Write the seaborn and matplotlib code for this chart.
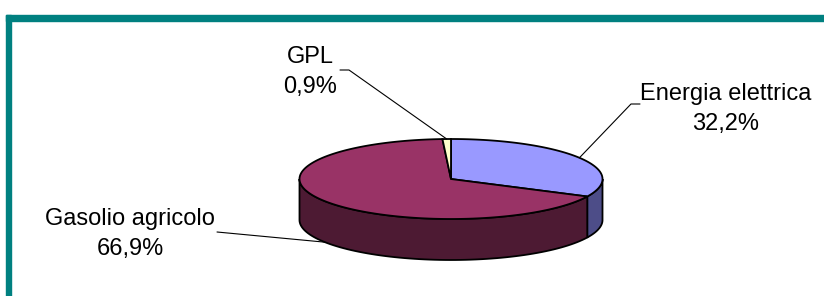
import numpy as np
import matplotlib
matplotlib.use("Agg")
import matplotlib.pyplot as plt
from matplotlib.patches import Polygon, Rectangle
import seaborn as sns

# data
categories = ["Energia elettrica", "Gasolio agricolo", "GPL"]
shares = [32.2, 66.9, 0.9]
top_colors = ["#9999FF", "#993366", "#FFFFCC"]
side_colors = ["#4D4D88", "#4D1A33", "#80805F"]

# layout (pixel coords)
CX, CY, RX, RY, DEPTH = 451, 179, 151.5, 40, 41
label_pos = {"Energia elettrica": (726, 100), "Gasolio agricolo": (130, 225), "GPL": (310, 63)}
leader_start = {"Energia elettrica": [(640, 104), (631, 104)],
                "Gasolio agricolo": [(217, 232)],
                "GPL": [(340, 70), (349, 70)]}
LINE_GAP = 30


def pt(theta, dz=0):
    return CX + RX * np.cos(theta), CY - RY * np.sin(theta) + dz


def main():
    sns.set_style("white")
    plt.rcParams["font.family"] = ["Liberation Sans", "DejaVu Sans"]
    fig = plt.figure(figsize=(8.24, 2.96), dpi=100)
    ax = fig.add_axes([0, 0, 1, 1])
    ax.set_xlim(0, 824)
    ax.set_ylim(296, 0)
    ax.axis("off")

    total = sum(shares)
    start = 90.0
    slices = []
    for cat, v in zip(categories, shares):
        sweep = v / total * 360
        slices.append((cat, start - sweep, start))
        start -= sweep

    # side walls (front half only)
    for (cat, a0, a1), sc in zip(slices, side_colors):
        for k in (-360, 0, 360):
            lo = max(a0 + k, 180)
            hi = min(a1 + k, 360)
            if hi > lo:
                th = np.radians(np.linspace(lo, hi, 80))
                top = [pt(t) for t in th]
                bot = [pt(t, DEPTH) for t in th[::-1]]
                ax.add_patch(Polygon(top + bot, closed=True, fc=sc, ec="black", lw=1.3, zorder=2))

    # top faces
    for (cat, a0, a1), tc in zip(slices, top_colors):
        th = np.radians(np.linspace(a0, a1, 200))
        verts = [(CX, CY)] + [pt(t) for t in th]
        ax.add_patch(Polygon(verts, closed=True, fc=tc, ec="black", lw=1.3, zorder=3))

    # labels and leaders
    for (cat, a0, a1), v in zip(slices, shares):
        mid = np.radians((a0 + a1) / 2)
        ex, ey = pt(mid, DEPTH if np.sin(mid) < 0 else 0)
        pts = leader_start[cat] + [(ex, ey)]
        ax.plot([p[0] for p in pts], [p[1] for p in pts], color="black", lw=0.8, zorder=4)
        x, y = label_pos[cat]
        ax.text(x, y, cat, ha="center", va="baseline", fontsize=17, color="black", zorder=5)
        ax.text(x, y + LINE_GAP, ("%.1f%%" % v).replace(".", ","), ha="center", va="baseline",
                fontsize=17, color="black", zorder=5)

    # teal frame
    fig.patches.append(Rectangle((6 / 824, 0), 4.5 / 824, 1 - 15 / 296, transform=fig.transFigure,
                                 color="#008080", zorder=10))
    fig.patches.append(Rectangle((6 / 824, 1 - 20.5 / 296), 1, 5.5 / 296, transform=fig.transFigure,
                                 color="#008080", zorder=10))

    fig.savefig("out.png", dpi=100)
    plt.close(fig)


if "__main__" == __name__:
    main()
